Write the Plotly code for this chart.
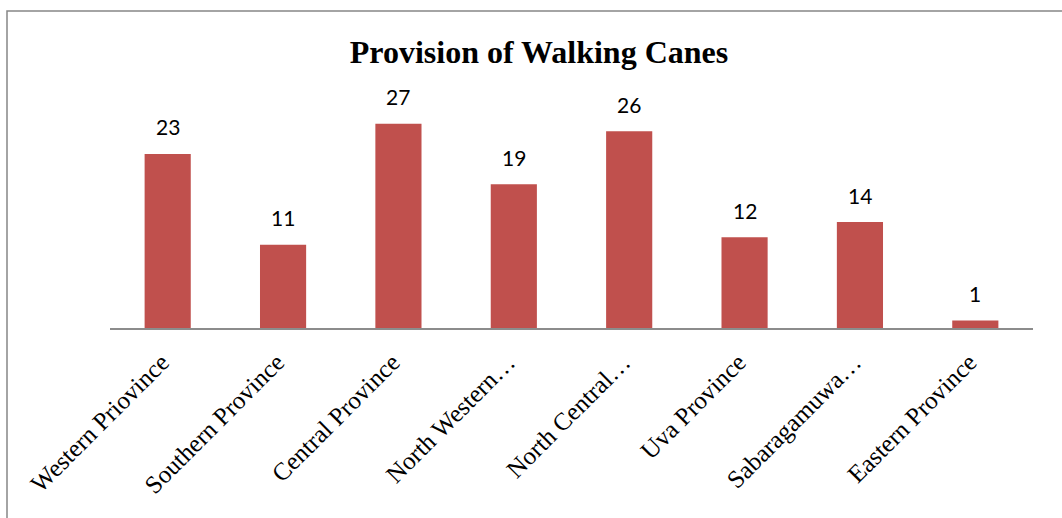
import plotly.graph_objects as go

categories = ["Western Priovince", "Southern Province", "Central Province", "North Western…",
              "North Central…", "Uva Province", "Sabaragamuwa…", "Eastern Province"]
values = [23, 11, 27, 19, 26, 12, 14, 1]

W, H = 1062, 518
L, R, T, B = 110, 29, 101, 190
pw, ph = W - L - R, H - T - B

fig = go.Figure(go.Bar(x=categories, y=values, marker=dict(color="#C0504D", line=dict(width=0)),
                       hoverinfo="x+y"))

for c, v in zip(categories, values):
    fig.add_annotation(x=c, y=v, text=str(v), showarrow=False, yanchor="middle", yshift=27,
                       font=dict(family="Lato, Open Sans, sans-serif", size=21, color="black"))

fig.add_shape(type="rect", xref="paper", yref="paper",
              x0=(7 - L) / pw, x1=1.2, y0=-1.0, y1=(H - B - 11) / ph,
              line=dict(color="#868686", width=1.5), fillcolor="rgba(0,0,0,0)", layer="below")

fig.update_layout(
    width=W, height=H,
    margin=dict(l=L, r=R, t=T, b=B),
    paper_bgcolor="white", plot_bgcolor="white",
    bargap=0.6,
    showlegend=False,
    title=dict(text="<b>Provision of Walking Canes</b>", x=539 / W, xanchor="center",
               y=1 - 52 / H, yanchor="middle",
               font=dict(family="Liberation Serif, Times New Roman, serif", size=32, color="black")),
    xaxis=dict(showline=True, linecolor="#8c8c8c", linewidth=1.5, ticks="", tickangle=-45,
               ticklabelstandoff=8, ticklabelshift=-6,
               tickfont=dict(family="Liberation Serif, Times New Roman, serif", size=25, color="black"),
               showgrid=False, zeroline=False),
    yaxis=dict(range=[0, 30], visible=False, showgrid=False, zeroline=False),
)

fig.write_html("out.html", config={"displayModeBar": False},
               post_script="document.body.style.margin='0';")
